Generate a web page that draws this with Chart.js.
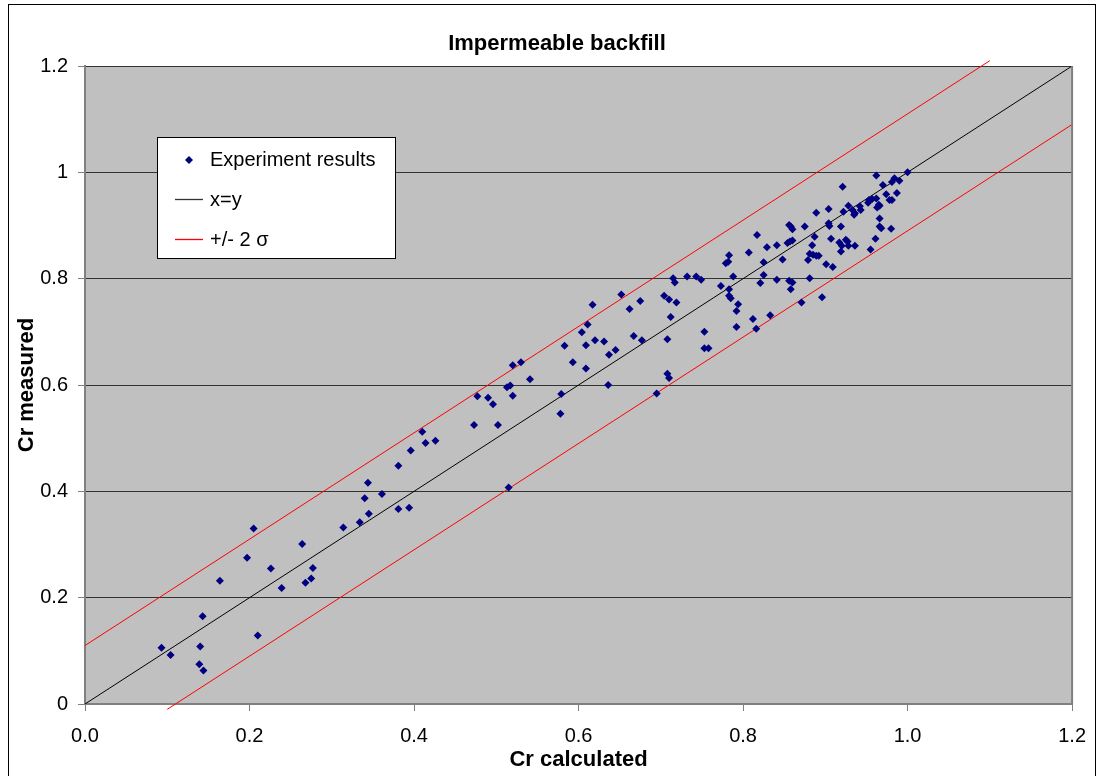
<!DOCTYPE html>
<html>
<head>
<meta charset="utf-8">
<script src="https://cdn.jsdelivr.net/npm/chart.js@4.4.1/dist/chart.umd.min.js"></script>
<style>
  html, body { margin: 0; padding: 0; background: #fff; }
  canvas { display: block; }
</style>
</head>
<body>
<canvas id="chart" width="1099" height="776"></canvas>
<script>
// experiment results
var crCalc = [0.093, 0.104, 0.140, 0.139, 0.144, 0.143, 0.164, 0.197, 0.205, 0.210,
  0.226, 0.239, 0.264, 0.268, 0.275, 0.277, 0.314, 0.334, 0.345, 0.340,
  0.344, 0.361, 0.381, 0.394, 0.381, 0.396, 0.410, 0.414, 0.426, 0.473,
  0.502, 0.477, 0.490, 0.496, 0.513, 0.517, 0.520, 0.520, 0.530, 0.541,
  0.515, 0.579, 0.578, 0.583, 0.593, 0.604, 0.611, 0.609, 0.609, 0.617,
  0.620, 0.631, 0.637, 0.645, 0.636, 0.652, 0.662, 0.675, 0.667, 0.677,
  0.695, 0.708, 0.710, 0.708, 0.704, 0.710, 0.719, 0.712, 0.715, 0.717,
  0.732, 0.743, 0.749, 0.753, 0.753, 0.758, 0.773, 0.779, 0.782, 0.783,
  0.788, 0.783, 0.783, 0.785, 0.794, 0.792, 0.792, 0.807, 0.817, 0.825,
  0.829, 0.825, 0.821, 0.812, 0.816, 0.833, 0.841, 0.841, 0.848, 0.856,
  0.858, 0.860, 0.854, 0.857, 0.860, 0.856, 0.860, 0.858, 0.871, 0.875,
  0.884, 0.887, 0.881, 0.879, 0.885, 0.889, 0.892, 0.881, 0.896, 0.889,
  0.904, 0.904, 0.905, 0.901, 0.909, 0.907, 0.919, 0.917, 0.920, 0.919,
  0.925, 0.927, 0.928, 0.936, 0.922, 0.928, 0.933, 0.935, 0.942, 0.943,
  0.952, 0.966, 0.978, 0.966, 0.966, 0.968, 0.961, 0.955, 0.980, 0.962,
  1.000, 0.921, 0.970, 0.981, 0.984, 0.990, 0.974, 0.981, 0.987, 0.962,
  0.957, 0.953, 0.963, 0.965, 0.936];
var crMeas = [0.106, 0.092, 0.108, 0.075, 0.063, 0.165, 0.232, 0.275, 0.330, 0.129,
  0.255, 0.218, 0.301, 0.228, 0.236, 0.256, 0.332, 0.342, 0.358, 0.387,
  0.416, 0.395, 0.367, 0.369, 0.448, 0.477, 0.512, 0.491, 0.495, 0.525,
  0.525, 0.579, 0.576, 0.564, 0.596, 0.599, 0.580, 0.637, 0.643, 0.611,
  0.407, 0.583, 0.546, 0.674, 0.643, 0.699, 0.714, 0.675, 0.631, 0.751,
  0.684, 0.682, 0.657, 0.666, 0.600, 0.770, 0.743, 0.758, 0.692, 0.684,
  0.584, 0.621, 0.613, 0.686, 0.768, 0.761, 0.755, 0.728, 0.801, 0.793,
  0.804, 0.804, 0.798, 0.700, 0.669, 0.669, 0.786, 0.829, 0.832, 0.844,
  0.804, 0.780, 0.768, 0.763, 0.752, 0.739, 0.709, 0.849, 0.882, 0.831,
  0.859, 0.807, 0.792, 0.724, 0.706, 0.731, 0.863, 0.798, 0.836, 0.901,
  0.898, 0.893, 0.867, 0.870, 0.872, 0.796, 0.793, 0.780, 0.755, 0.898,
  0.863, 0.879, 0.847, 0.835, 0.845, 0.843, 0.843, 0.801, 0.765, 0.924,
  0.931, 0.904, 0.899, 0.827, 0.822, 0.875, 0.898, 0.868, 0.862, 0.851,
  0.873, 0.870, 0.862, 0.862, 0.926, 0.937, 0.929, 0.920, 0.936, 0.929,
  0.943, 0.937, 0.948, 0.913, 0.898, 0.895, 0.875, 0.855, 0.894, 0.994,
  1.000, 0.973, 0.976, 0.982, 0.989, 0.984, 0.959, 0.948, 0.961, 0.951,
  0.950, 0.948, 0.934, 0.939, 0.923];

// x=y line and +/- 2 sigma band end points
var equalX = [0, 1.2];
var equalY = [0, 1.2];
var upperX = [0, 1.1];
var upperY = [0.11, 1.21];
var lowerX = [0.1, 1.2];
var lowerY = [-0.01, 1.09];

var legendLabels = ['Experiment results', 'x=y', '+/- 2 \u03c3'];

function toPoints(xs, ys) {
  var pts = [];
  for (var i = 0; i < xs.length; i++) pts.push({ x: xs[i], y: ys[i] });
  return pts;
}

var FONT = '"Liberation Sans", Arial, sans-serif';

var frame = {
  id: 'frame',
  beforeDraw: function (chart) {
    var c = chart.ctx, a = chart.chartArea;
    c.save();
    c.fillStyle = '#ffffff';
    c.fillRect(0, 0, chart.width, chart.height);
    c.fillStyle = '#c0c0c0';
    c.fillRect(a.left, a.top, a.right - a.left, a.bottom - a.top);
    c.restore();
  },
  afterDraw: function (chart) {
    var c = chart.ctx, a = chart.chartArea;
    c.save();
    // right edge of plot
    c.strokeStyle = '#808080';
    c.lineWidth = 2;
    c.beginPath();
    c.moveTo(a.right, a.top);
    c.lineTo(a.right, a.bottom);
    c.stroke();
    // outer frame
    c.strokeStyle = '#000';
    c.lineWidth = 1;
    c.strokeRect(8.5, 4.5, 1087, 800);
    // title
    c.fillStyle = '#000';
    c.font = 'bold 22px ' + FONT;
    c.textAlign = 'center';
    c.textBaseline = 'alphabetic';
    c.fillText('Impermeable backfill', 557, 50);
    // legend box
    c.fillStyle = '#fff';
    c.fillRect(157, 137, 238, 121);
    c.strokeStyle = '#000';
    c.strokeRect(157.5, 137.5, 238, 121);
    c.font = '20px ' + FONT;
    c.textAlign = 'left';
    c.fillStyle = '#000';
    c.fillText(legendLabels[0], 210, 166);
    c.fillText(legendLabels[1], 210, 206);
    c.fillText(legendLabels[2], 210, 246);
    c.fillStyle = '#000080';
    c.beginPath();
    c.moveTo(189, 156); c.lineTo(193, 160); c.lineTo(189, 164); c.lineTo(185, 160);
    c.closePath();
    c.fill();
    c.lineWidth = 1.3;
    c.strokeStyle = '#333333';
    c.beginPath(); c.moveTo(175, 199.5); c.lineTo(203, 199.5); c.stroke();
    c.strokeStyle = 'rgb(255, 0, 0)';
    c.beginPath(); c.moveTo(175, 239.5); c.lineTo(203, 239.5); c.stroke();
    c.restore();
  }
};

new Chart(document.getElementById('chart').getContext('2d'), {
  type: 'scatter',
  data: {
    datasets: [{
      label: legendLabels[0],
      data: toPoints(crCalc, crMeas),
      pointStyle: 'rectRot',
      pointRadius: 4,
      pointBackgroundColor: '#000080',
      pointBorderColor: '#000080',
      pointBorderWidth: 0,
      order: 0
    }, {
      label: legendLabels[1],
      data: toPoints(equalX, equalY),
      showLine: true,
      borderColor: '#000',
      borderWidth: 1,
      pointRadius: 0,
      order: 1
    }, {
      label: legendLabels[2],
      data: toPoints(upperX, upperY),
      showLine: true,
      borderColor: '#ff0000',
      borderWidth: 1,
      pointRadius: 0,
      clip: { left: 0, top: 6, right: 0, bottom: 0 },
      order: 1
    }, {
      label: 'lower',
      data: toPoints(lowerX, lowerY),
      showLine: true,
      borderColor: '#ff0000',
      borderWidth: 1,
      pointRadius: 0,
      clip: { left: 0, top: 0, right: 0, bottom: 8 },
      order: 1
    }]
  },
  options: {
    responsive: false,
    animation: false,
    layout: { padding: { top: 66, right: 26, left: 0, bottom: 0 } },
    plugins: {
      legend: { display: false },
      title: { display: false },
      tooltip: { enabled: false }
    },
    scales: {
      x: {
        type: 'linear',
        min: 0,
        max: 1.2,
        afterFit: function (s) { s.height = 72; },
        ticks: {
          stepSize: 0.2,
          padding: 13,
          color: '#000',
          font: { family: FONT, size: 20 },
          callback: function (v) { return v.toFixed(1); }
        },
        grid: { drawOnChartArea: false, drawTicks: true, tickLength: 7, tickColor: '#808080' },
        border: { color: '#808080', width: 2 },
        title: {
          display: true,
          text: 'Cr calculated',
          color: '#000',
          font: { family: FONT, size: 22, weight: 'bold' },
          padding: { top: 0, bottom: 3 }
        }
      },
      y: {
        min: 0,
        max: 1.2,
        afterFit: function (s) { s.width = 85; },
        ticks: {
          stepSize: 0.2,
          padding: 10,
          color: '#000',
          font: { family: FONT, size: 20 },
          callback: function (v) { return String(Number(v.toFixed(1))); }
        },
        grid: { color: '#333', lineWidth: 1, tickLength: 7, tickColor: '#808080' },
        border: { color: '#808080', width: 2 },
        title: {
          display: true,
          text: 'Cr measured',
          color: '#000',
          font: { family: FONT, size: 22, weight: 'bold' },
          padding: { top: 14, bottom: 0 }
        }
      }
    }
  },
  plugins: [frame]
});
</script>
</body>
</html>
